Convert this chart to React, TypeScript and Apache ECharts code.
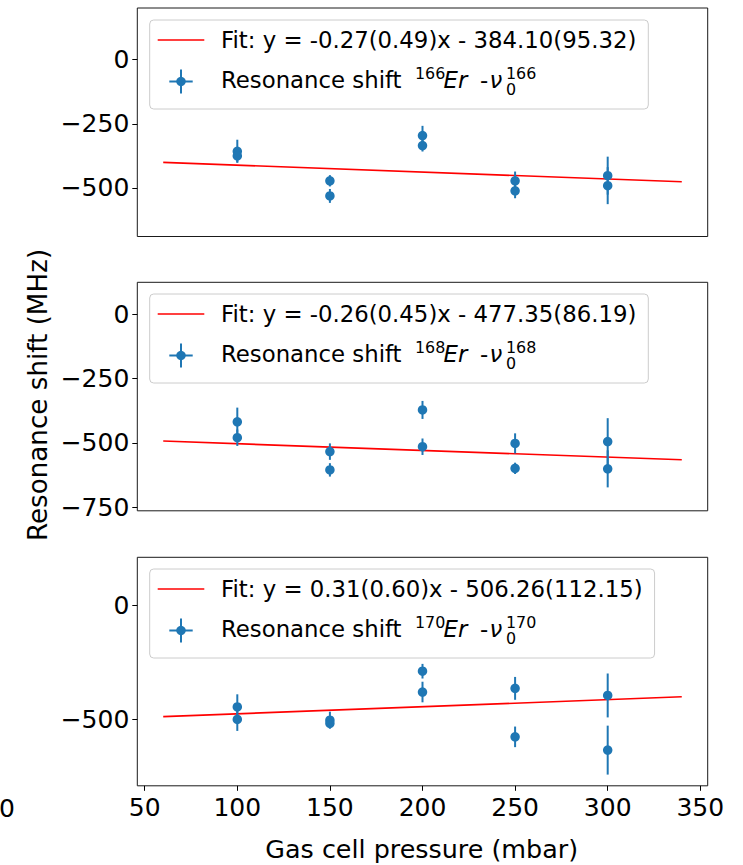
import React, { useEffect, useRef } from "react";
import * as echarts from "echarts";

// ---------- data ----------
const pressures = [100, 100, 150, 150, 200, 200, 250, 250, 300, 300];

const shift166 = [-357, -375, -472, -531, -296, -335, -472, -511, -452, -491];
const err166 = [45, 25, 22, 27, 38, 23, 36, 29, 74, 72];

const shift168 = [-418, -480, -534, -605, -372, -515, -502, -599, -495, -601];
const err168 = [55, 32, 32, 26, 35, 32, 39, 22, 91, 72];

const shift170 = [-445, -500, -503, -517, -289, -380, -364, -576, -395, -634];
const err170 = [55, 50, 37, 22, 32, 45, 50, 45, 96, 107];

const fitX = [60, 340];
const fit166 = [-400.3, -475.9];
const fit168 = [-492.95, -565.75];
const fit170 = [-487.66, -400.86];

const fitLabels = [
  "Fit: y = -0.27(0.49)x - 384.10(95.32)",
  "Fit: y = -0.26(0.45)x - 477.35(86.19)",
  "Fit: y = 0.31(0.60)x - 506.26(112.15)",
];
const isotopes = ["166", "168", "170"];

const xTicks = [50, 100, 150, 200, 250, 300, 350];
const yTicks = [
  [-500, -250, 0],
  [-750, -500, -250, 0],
  [-500, 0],
];
const yRanges = [
  [-689, 201],
  [-764, 124],
  [-790, 209],
];
const xRange = [46, 354];

const xAxisTitle = "Gas cell pressure (mbar)";
const yAxisTitle = "Resonance shift (MHz)";

// ---------- style ----------
const FONT = "'DejaVu Sans', sans-serif";
const BLUE = "#1f77b4";
const RED = "#ff0000";
const GRID_LEFT = 137.3;
const GRID_W = 570.4;
const GRID_H = 228.5;
const GRID_TOPS = [8, 282.3, 557.3];
const LEGEND_TOPS = [20, 294, 569];
const LEG_FS = 22.8;
const SUP_FS = 15.9;

function measure(text: string, font: string): number {
  try {
    const c = document.createElement("canvas").getContext("2d");
    if (c) {
      c.font = font;
      return c.measureText(text).width;
    }
  } catch (e) {}
  return text.length * 11.2;
}

export default function App() {
  const ref = useRef<HTMLDivElement>(null);

  useEffect(() => {
    if (!ref.current) return;
    const chart = echarts.init(ref.current, undefined, { renderer: "svg" });

    const ys = [shift166, shift168, shift170];
    const errs = [err166, err168, err170];
    const fits = [fit166, fit168, fit170];

    const grids = GRID_TOPS.map((t) => ({
      left: GRID_LEFT,
      top: t,
      width: GRID_W,
      height: GRID_H,
      show: true,
      borderColor: "#1a1a1a",
      borderWidth: 1,
      backgroundColor: "transparent",
      outerBoundsMode: "none",
    }));

    const xAxes = [0, 1, 2].map((i) => ({
      type: "value",
      gridIndex: i,
      position: "bottom",
      min: xRange[0],
      max: xRange[1],
      axisLine: { show: false, onZero: false },
      splitLine: { show: false },
      axisTick: {
        show: i === 2,
        inside: false,
        length: 5,
        lineStyle: { color: "#000", width: 1 },
        customValues: xTicks,
      },
      axisLabel: {
        show: i === 2,
        customValues: xTicks,
        fontSize: 25,
        fontFamily: FONT,
        color: "#000",
        margin: 9,
      },
    }));

    const yAxes = [0, 1, 2].map((i) => ({
      type: "value",
      gridIndex: i,
      position: "left",
      min: yRanges[i][0],
      max: yRanges[i][1],
      axisLine: { show: false, onZero: false },
      splitLine: { show: false },
      axisTick: {
        show: true,
        inside: false,
        length: 5,
        lineStyle: { color: "#000", width: 1 },
        customValues: yTicks[i],
      },
      axisLabel: {
        show: true,
        customValues: yTicks[i],
        fontSize: 25,
        fontFamily: FONT,
        color: "#000",
        margin: 8,
        formatter: (v: number) => String(v).replace("-", "\u2212"),
      },
    }));

    const series: any[] = [];
    [0, 1, 2].forEach((i) => {
      series.push({
        type: "line",
        xAxisIndex: i,
        yAxisIndex: i,
        data: fitX.map((x, k) => [x, fits[i][k]]),
        symbol: "none",
        lineStyle: { color: RED, width: 1.6 },
        z: 1,
        silent: true,
      });
      series.push({
        type: "custom",
        xAxisIndex: i,
        yAxisIndex: i,
        data: pressures.map((x, k) => [x, ys[i][k], errs[i][k]]),
        encode: { x: 0, y: 1 },
        renderItem: (params: any, api: any) => {
          const x = api.value(0);
          const y = api.value(1);
          const e = api.value(2);
          const p1 = api.coord([x, y + e]);
          const p2 = api.coord([x, y - e]);
          return {
            type: "line",
            shape: { x1: p1[0], y1: p1[1], x2: p2[0], y2: p2[1] },
            style: { stroke: BLUE, lineWidth: 2 },
          };
        },
        z: 2,
        silent: true,
      });
      series.push({
        type: "scatter",
        xAxisIndex: i,
        yAxisIndex: i,
        data: pressures.map((x, k) => [x, ys[i][k]]),
        symbol: "circle",
        symbolSize: 9.5,
        itemStyle: { color: BLUE, opacity: 1 },
        z: 3,
        silent: true,
      });
    });

    // ---------- legends via graphic ----------
    const graphic: any[] = [];
    const legFont = `${LEG_FS}px DejaVu Sans`;
    const textX = 221;
    [0, 1, 2].forEach((i) => {
      const T = LEGEND_TOPS[i];
      const w = measure(fitLabels[i], legFont);
      const right = textX + w + 12;
      const r1 = T + 19.5;
      const r2 = T + 60;
      graphic.push({
        type: "rect",
        shape: { x: 149.7, y: T, width: right - 149.7, height: 89, r: 4 },
        style: { fill: "rgba(255,255,255,0.8)", stroke: "#cccccc", lineWidth: 1 },
        z: 10,
      });
      graphic.push({
        type: "line",
        shape: { x1: 157.7, y1: T + 20, x2: 204.3, y2: T + 20 },
        style: { stroke: RED, lineWidth: 1.6 },
        z: 11,
      });
      graphic.push({
        type: "line",
        shape: { x1: 169.3, y1: T + 61.5, x2: 192.7, y2: T + 61.5 },
        style: { stroke: BLUE, lineWidth: 2 },
        z: 11,
      });
      graphic.push({
        type: "line",
        shape: { x1: 181, y1: T + 49.5, x2: 181, y2: T + 73.5 },
        style: { stroke: BLUE, lineWidth: 2 },
        z: 11,
      });
      graphic.push({
        type: "circle",
        shape: { cx: 181, cy: T + 61.5, r: 4.75 },
        style: { fill: BLUE },
        z: 12,
      });
      const txt = (
        text: string,
        x: number,
        y: number,
        size: number,
        italic = false,
        lineHeight?: number
      ) => ({
        type: "text",
        x,
        y,
        style: {
          text,
          fill: "#000",
          fontSize: size,
          fontFamily: FONT,
          fontStyle: italic ? "italic" : "normal",
          align: "left",
          verticalAlign: "middle",
          lineHeight: lineHeight,
        },
        z: 12,
      });
      graphic.push(txt(fitLabels[i], textX, r1, LEG_FS));
      graphic.push(txt("Resonance shift", textX, r2, LEG_FS));
      graphic.push(txt(isotopes[i], 415, r2 - 6.2, SUP_FS));
      graphic.push(txt("Er", 443.5, r2, LEG_FS, true));
      graphic.push(txt("-", 480, r2, LEG_FS));
      graphic.push(txt("\u03bd", 489.5, r2, LEG_FS, true));
      // stacked superscript / subscript of nu
      graphic.push(txt(isotopes[i] + "\n0", 506, r2 + 1.6, SUP_FS, false, 16));
    });

    // axis titles
    graphic.push({
      type: "text",
      x: 38,
      y: 395,
      rotation: Math.PI / 2,
      style: {
        text: yAxisTitle,
        fill: "#000",
        fontSize: 26.2,
        fontFamily: FONT,
        align: "center",
        verticalAlign: "middle",
      },
    });
    graphic.push({
      type: "text",
      x: 421.7,
      y: 849,
      style: {
        text: xAxisTitle,
        fill: "#000",
        fontSize: 25.4,
        fontFamily: FONT,
        align: "center",
        verticalAlign: "middle",
      },
    });
    // stray tick label of the hidden outer axis
    graphic.push({
      type: "text",
      x: 15,
      y: 808,
      style: {
        text: "0",
        fill: "#000",
        fontSize: 25,
        fontFamily: FONT,
        align: "right",
        verticalAlign: "middle",
      },
    });

    chart.setOption({
      animation: false,
      backgroundColor: "#ffffff",
      grid: grids,
      xAxis: xAxes,
      yAxis: yAxes,
      series,
      graphic,
    } as any);

    return () => chart.dispose();
  }, []);

  return (
    <div
      ref={ref}
      style={{ position: "absolute", left: 0, top: 0, width: 743, height: 865 }}
    />
  );
}
